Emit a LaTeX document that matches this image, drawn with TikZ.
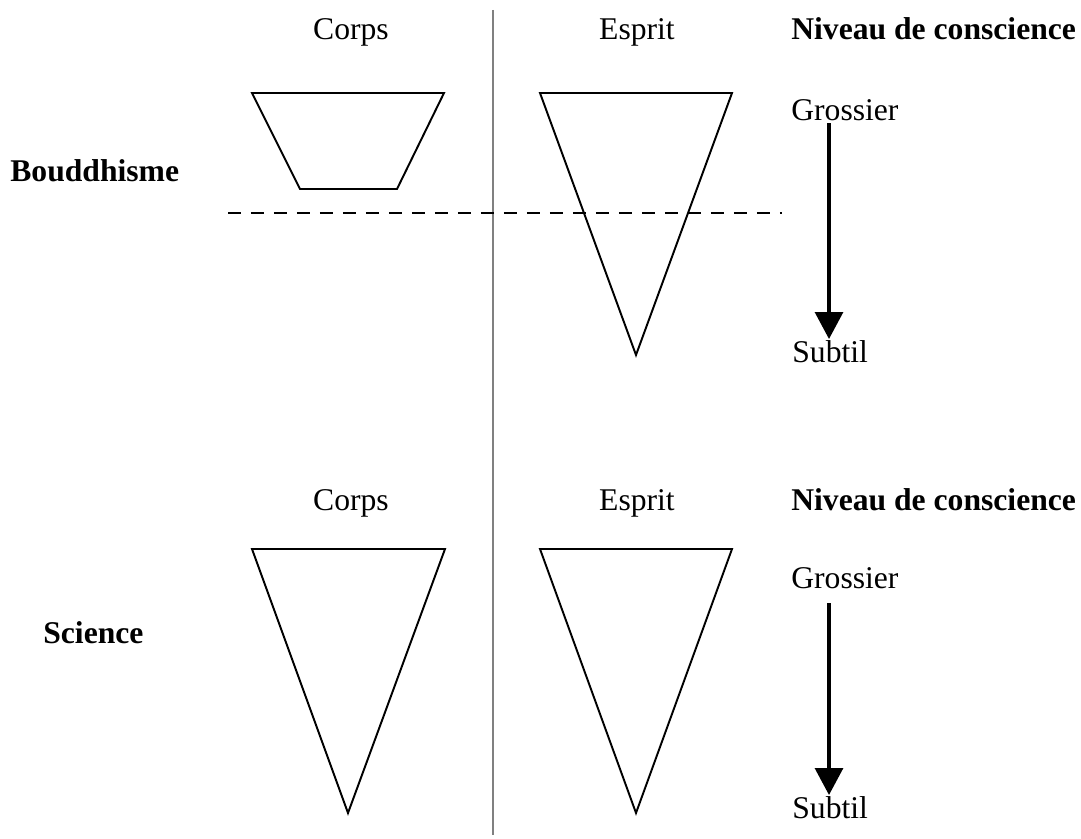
\documentclass[tikz,border=0pt]{standalone}
\usepackage{fontspec}
\setmainfont{Liberation Serif}
\usetikzlibrary{arrows.meta}
\tikzset{
  lbl/.style={inner sep=0pt, font=\fontsize{18}{22}\selectfont},
  titel/.style={lbl, font=\fontsize{18}{22}\selectfont\bfseries},
  form/.style={line width=1.1pt, line join=miter},
  pfeil/.style={line width=1.8pt, -{Triangle[width=0.56cm,length=0.54cm]}}
}
\begin{document}
\begin{tikzpicture}[x=0.02cm,y=-0.02cm]
         \useasboundingbox (0,0) rectangle (1081,838);
         % Trennlinie
         \draw[gray, line width=0.7pt] (493,10) -- (493,835);
         % oben: Bouddhisme
         \node[lbl, anchor=base] (corpsA) at (351,40) {Corps};
         \node[lbl, anchor=base] (espritA) at (637,40) {Esprit};
         \node[titel, anchor=base west] (niveauA) at (791,40) {Niveau de conscience};
         \node[titel, anchor=base west] (bouddhisme) at (10,181) {Bouddhisme};
         \draw[form] (252,93) -- (444,93) -- (397,189) -- (300,189) -- cycle;
         \draw[form] (540,93) -- (732,93) -- (636,355) -- cycle;
         \draw[line width=1.1pt, dash pattern=on 0.26cm off 0.2cm] (228,213) -- (782,213);
         \node[lbl, anchor=base west] (grobA) at (791,120) {Grossier};
         \node[lbl, anchor=base west] (feinA) at (792,362) {Subtil};
         \coordinate (pA1) at (829,123);
         \coordinate (pA2) at (829,339);
         \draw[pfeil] (pA1) -- (pA2);
         % unten: Science
         \node[lbl, anchor=base] (corpsB) at (351,510) {Corps};
         \node[lbl, anchor=base] (espritB) at (637,510) {Esprit};
         \node[titel, anchor=base west] (niveauB) at (791,510) {Niveau de conscience};
         \node[titel, anchor=base west] (science) at (43,643) {Science};
         \draw[form] (252,549) -- (445,549) -- (348,813) -- cycle;
         \draw[form] (540,549) -- (732,549) -- (636,813) -- cycle;
         \node[lbl, anchor=base west] (grobB) at (791,588) {Grossier};
         \node[lbl, anchor=base west] (feinB) at (792,818) {Subtil};
         \coordinate (pB1) at (829,603);
         \coordinate (pB2) at (829,795);
         \draw[pfeil] (pB1) -- (pB2);
\end{tikzpicture}
\end{document}
